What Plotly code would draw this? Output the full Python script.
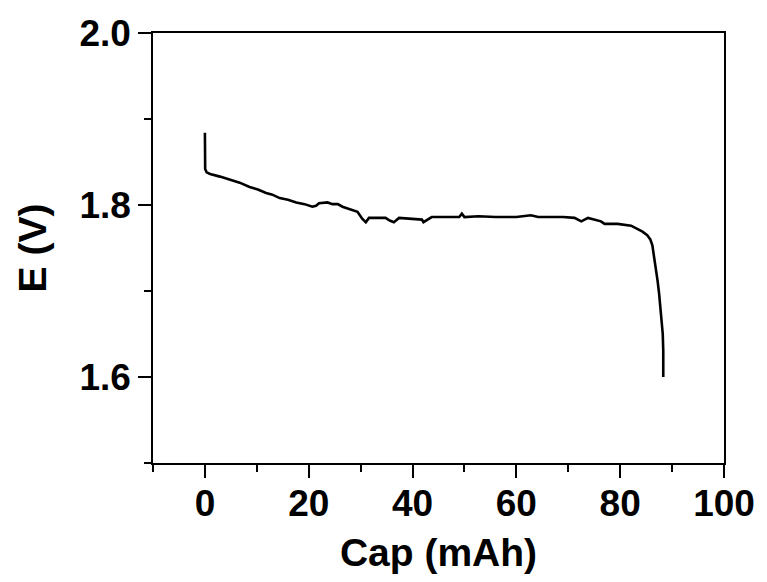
import plotly.graph_objects as go

# Discharge curve: capacity (mAh) vs. cell potential (V)
cap_mah = [0.0, 0.0, 0.05, 0.33, 1.0, 2.9, 4.5, 6.7, 8.6, 10.2, 11.8, 13.0, 14.4,
           16.0, 17.6, 19.2, 20.7, 21.4, 22.0, 23.6, 24.6, 25.6, 26.5, 27.5, 28.5,
           29.4, 30.3, 31.0, 31.6, 33.0, 34.8, 35.6, 36.4, 37.4, 39.5, 41.8, 42.1,
           43.7, 46.0, 49.0, 49.5, 50.0, 52.7, 56.0, 60.0, 62.8, 64.2, 66.1, 69.0,
           71.2, 72.5, 73.8, 75.0, 76.3, 77.0, 79.5, 82.1, 83.3, 84.3, 85.2, 85.8,
           86.2, 86.5, 86.8, 87.2, 87.5, 88.0, 88.2, 88.3, 88.3]
potential_v = [1.884, 1.852, 1.842, 1.838, 1.836, 1.833, 1.830, 1.826, 1.821, 1.818,
               1.814, 1.812, 1.808, 1.806, 1.803, 1.801, 1.798, 1.799, 1.802, 1.803,
               1.801, 1.801, 1.798, 1.796, 1.794, 1.792, 1.784, 1.780, 1.785, 1.785,
               1.785, 1.782, 1.780, 1.785, 1.784, 1.783, 1.780, 1.786, 1.786, 1.786,
               1.790, 1.786, 1.787, 1.786, 1.786, 1.788, 1.786, 1.786, 1.786, 1.785,
               1.781, 1.785, 1.783, 1.781, 1.778, 1.778, 1.776, 1.772, 1.769, 1.765,
               1.760, 1.753, 1.742, 1.728, 1.712, 1.697, 1.666, 1.650, 1.630, 1.600]

x_range = [-10, 100]
y_range = [1.5, 2.0]

font_family = "Liberation Sans, Arial, sans-serif"
tick_font = dict(family=font_family, size=37, color="black", weight="bold")
title_font = dict(family=font_family, size=39, color="black", weight="bold")

fig = go.Figure()
fig.add_trace(go.Scatter(
    x=cap_mah, y=potential_v, mode="lines",
    line=dict(color="black", width=2.6),
    showlegend=False,
))

axis_common = dict(
    showline=True, linecolor="black", linewidth=1.5, mirror=True,
    showgrid=False, zeroline=False,
    ticks="outside", ticklen=13, tickwidth=1.5, tickcolor="black",
    tickfont=tick_font,
)

fig.update_xaxes(
    range=x_range, tick0=0, dtick=20, ticklabelstandoff=-6,
    minor=dict(ticks="outside", ticklen=7, tickwidth=1.5, tickcolor="black",
               tick0=-10, dtick=10, showgrid=False),
    title=dict(text="Cap (mAh)", font=title_font, standoff=16),
    **axis_common,
)
fig.update_yaxes(
    range=y_range, tick0=1.6, dtick=0.2, tickformat=".1f",
    minor=dict(ticks="outside", ticklen=7, tickwidth=1.5, tickcolor="black",
               tick0=1.5, dtick=0.1, showgrid=False),
    title=dict(text="E (V)", font=title_font, standoff=21),
    **axis_common,
)

fig.update_layout(
    width=767, height=582,
    margin=dict(l=153, r=40, t=33, b=119),
    paper_bgcolor="white", plot_bgcolor="white",
)

fig.write_html("out.html")
